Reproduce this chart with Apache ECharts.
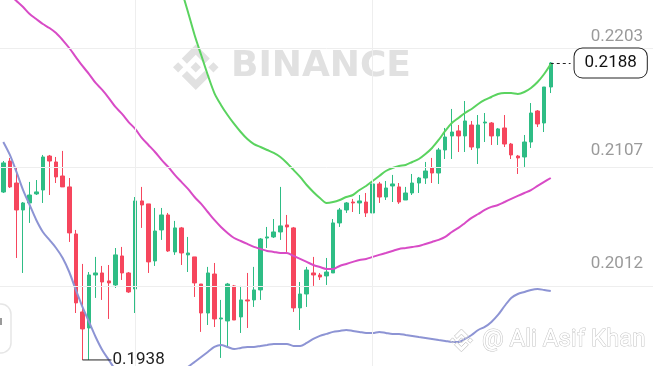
<!DOCTYPE html>
<html><head><meta charset="utf-8">
<style>html,body{margin:0;padding:0;background:#fff;overflow:hidden}#c{width:653px;height:366px}</style>
<script src="https://cdn.jsdelivr.net/npm/echarts@6/dist/echarts.min.js"></script>
</head><body><div id="c"></div>
<script>
// ---- data ----
const opens = [0.20793,0.21054,0.20869,0.20642,0.20701,0.20777,0.20810,0.21096,0.21046,0.20928,
0.20836,0.20440,0.19784,0.19649,0.20095,0.20112,0.20045,0.20011,0.20255,0.20112,
0.19977,0.20718,0.20693,0.20213,0.20474,0.20600,0.20289,0.20491,0.20264,0.20247,
0.20019,0.19775,0.20103,0.19725,0.19708,0.20003,0.19742,0.19885,0.19885,0.19969,
0.20406,0.20415,0.20457,0.20516,0.20491,0.19818,0.19935,0.20112,0.20095,0.20087,
0.20112,0.20533,0.20642,0.20709,0.20701,0.20709,0.20617,0.20861,0.20751,0.20844,
0.20836,0.20726,0.20785,0.20869,0.20911,0.20995,0.20953,0.21147,0.21265,0.21307,
0.21265,0.21357,0.21164,0.21374,0.21374,0.21265,0.21332,0.21197,0.21096,0.21088,
0.21214,0.21475,0.21374,0.21677];
const closes = [0.21038,0.20836,0.20642,0.20701,0.20768,0.20794,0.21088,0.21054,0.20920,0.20836,
0.20449,0.19860,0.19641,0.20095,0.20112,0.20036,0.20028,0.20264,0.20112,0.19952,
0.20718,0.20684,0.20205,0.20465,0.20600,0.20297,0.20491,0.20280,0.20280,0.20028,
0.19775,0.20112,0.19725,0.19733,0.20019,0.19716,0.19885,0.19876,0.19969,0.20398,
0.20415,0.20457,0.20508,0.20499,0.19818,0.19935,0.20137,0.20095,0.20078,0.20120,
0.20533,0.20642,0.20701,0.20701,0.20718,0.20617,0.20861,0.20751,0.20827,0.20861,
0.20709,0.20785,0.20869,0.20911,0.20970,0.20953,0.21147,0.21256,0.21298,0.21265,
0.21391,0.21172,0.21357,0.21382,0.21265,0.21324,0.21197,0.21105,0.21080,0.21214,
0.21458,0.21366,0.21677,0.21879];
const lows = [0.20785,0.20827,0.20238,0.20112,0.20533,0.20768,0.20701,0.20768,0.20869,0.20836,
0.20373,0.19775,0.19380,0.19380,0.19902,0.19885,0.19725,0.19986,0.20053,0.19944,
0.19775,0.20491,0.20112,0.20171,0.20390,0.20289,0.20264,0.20179,0.20120,0.19910,
0.19616,0.19674,0.19657,0.19397,0.19489,0.19716,0.19607,0.19649,0.19826,0.19885,
0.20322,0.20406,0.20390,0.20289,0.19784,0.19632,0.19826,0.20003,0.20053,0.20011,
0.20112,0.20499,0.20617,0.20625,0.20608,0.20583,0.20617,0.20701,0.20726,0.20709,
0.20693,0.20726,0.20768,0.20785,0.20861,0.20869,0.20861,0.21071,0.21071,0.21130,
0.21130,0.21147,0.21029,0.21214,0.21189,0.21189,0.21172,0.21071,0.20945,0.21004,
0.21164,0.21340,0.21298,0.21626];
const highs = [0.21054,0.21080,0.21004,0.20709,0.20878,0.20894,0.21105,0.21105,0.21088,0.21139,
0.20911,0.20474,0.20188,0.20120,0.20247,0.20171,0.20179,0.20322,0.20331,0.20120,
0.20751,0.20836,0.20693,0.20659,0.20659,0.20617,0.20550,0.20499,0.20415,0.20247,
0.20019,0.20163,0.20196,0.19885,0.20028,0.20011,0.20003,0.20112,0.20163,0.20406,
0.20499,0.20566,0.20836,0.20600,0.20499,0.20036,0.20163,0.20247,0.20112,0.20238,
0.20566,0.20659,0.20709,0.20735,0.20768,0.20785,0.20953,0.20878,0.20886,0.20937,
0.20869,0.20836,0.20945,0.20920,0.21046,0.21080,0.21164,0.21332,0.21492,0.21357,
0.21559,0.21391,0.21441,0.21458,0.21382,0.21332,0.21441,0.21206,0.21105,0.21273,
0.21542,0.21483,0.21677,0.21887];
const greenLine = [null,null,null,null,null,null,null,null,null,null,
null,null,null,null,null,null,null,null,null,null,
null,null,null,null,null,null,0.22661,0.22493,0.22308,0.22115,
0.21946,0.21778,0.21626,0.21526,0.21441,0.21366,0.21298,0.21239,0.21197,0.21172,
0.21147,0.21122,0.21088,0.21038,0.20979,0.20920,0.20852,0.20794,0.20743,0.20701,
0.20709,0.20726,0.20751,0.20768,0.20810,0.20844,0.20886,0.20928,0.20970,0.20995,
0.21012,0.21021,0.21046,0.21071,0.21113,0.21164,0.21231,0.21307,0.21374,0.21416,
0.21458,0.21492,0.21534,0.21568,0.21593,0.21618,0.21626,0.21626,0.21618,0.21635,
0.21669,0.21719,0.21786,0.21870];
const magentaLine = [0.22510,0.22451,0.22401,0.22350,0.22291,0.22249,0.22207,0.22173,0.22131,0.22072,
0.22005,0.21929,0.21854,0.21786,0.21711,0.21652,0.21584,0.21509,0.21450,0.21382,
0.21324,0.21248,0.21189,0.21130,0.21063,0.21004,0.20937,0.20878,0.20819,0.20751,
0.20693,0.20625,0.20558,0.20499,0.20449,0.20406,0.20381,0.20356,0.20331,0.20314,
0.20297,0.20289,0.20280,0.20280,0.20255,0.20230,0.20205,0.20179,0.20162,0.20146,
0.20146,0.20171,0.20188,0.20205,0.20221,0.20230,0.20247,0.20264,0.20280,0.20297,
0.20314,0.20322,0.20331,0.20339,0.20356,0.20373,0.20390,0.20415,0.20457,0.20491,
0.20533,0.20575,0.20608,0.20642,0.20668,0.20684,0.20709,0.20735,0.20760,0.20785,
0.20810,0.20844,0.20878,0.20911];
const lavenderLine = [0.21214,0.21105,0.20962,0.20810,0.20684,0.20558,0.20457,0.20390,0.20322,0.20238,
0.20120,0.19969,0.19826,0.19700,0.19573,0.19464,0.19380,0.19296,0.19228,0.19170,
0.19128,0.19102,0.19085,0.19085,0.19102,0.19144,0.19203,0.19270,0.19321,0.19363,
0.19405,0.19447,0.19489,0.19506,0.19489,0.19472,0.19481,0.19489,0.19489,0.19498,
0.19506,0.19515,0.19515,0.19515,0.19498,0.19498,0.19523,0.19557,0.19582,0.19599,
0.19616,0.19624,0.19632,0.19624,0.19616,0.19607,0.19607,0.19616,0.19607,0.19599,
0.19599,0.19590,0.19582,0.19573,0.19565,0.19557,0.19548,0.19540,0.19531,0.19531,
0.19557,0.19590,0.19632,0.19658,0.19700,0.19759,0.19834,0.19902,0.19935,0.19952,
0.19969,0.19977,0.19969,0.19960];
const tickValues = [0.2203, 0.2107, 0.2012];
const tickLabels = ['0.2203', '0.2107', '0.2012'];
const vGridIndex = [20, 56];
const emptySlots = 15;

// ---- chart ----
const N = opens.length;
const categories = Array.from({length: N + emptySlots}, (_, i) => String(i + 1));
const candleData = opens.map((o, i) => [o, closes[i], lows[i], highs[i]]);
const minLow = Math.min.apply(null, lows);
const lowIdx = lows.indexOf(minLow);
const last = closes[N - 1];
const GREEN = '#2ebd85', RED = '#f6465d';
const FONT = 'Roboto, "Noto Sans", sans-serif';

// Binance logo polygons (126-unit box)
const logoPolys = [
  [[38.73,53.2],[63.3,28.63],[87.9,53.22],[102.2,38.92],[63.3,0],[24.42,38.9]],
  [[0,63.31],[14.3,49],[28.6,63.3],[14.3,77.6]],
  [[63.3,48.9],[77.7,63.3],[63.3,77.7],[48.9,63.3]],
  [[38.73,73.41],[63.3,97.98],[87.9,73.4],[102.2,87.7],[63.3,126.61],[24.42,87.71]],
  [[98,63.31],[112.3,49],[126.6,63.3],[112.3,77.6]]
];
function logo(ox, oy, s, style, z) {
  return logoPolys.map(p => ({
    type: 'polygon', silent: true, z: z,
    shape: {points: p.map(q => [ox + q[0] * s, oy + q[1] * s])},
    style: style
  }));
}

const baseGraphic = [].concat(
  logo(173, 44.5, 0.36, {fill: '#e1e1e1'}, 0),
  [{type: 'text', silent: true, z: 0, x: 231, y: 67,
    style: {text: 'BINANCE', fill: '#e1e1e1', font: 'bold 36px "DejaVu Sans"', textVerticalAlign: 'middle'}}],
  logo(450, 329, 0.18, {fill: 'none', stroke: '#cfcfcf', lineWidth: 1}, 50),
  [{type: 'text', silent: true, z: 50, x: 482, y: 340,
    style: {text: '@ Ali Asif Khan', fill: '#ffffff', stroke: '#c4c4c4', lineWidth: 1, font: '24px Roboto',
      textVerticalAlign: 'middle', shadowColor: 'rgba(0,0,0,0.10)', shadowBlur: 2}},
   {type: 'rect', silent: true, z: 50, shape: {x: -40, y: 304, width: 51, height: 49, r: 10},
    style: {fill: 'none', stroke: '#e6e6e6', lineWidth: 1.5}},
   {type: 'rect', silent: true, z: 50, shape: {x: -1, y: 318, width: 3, height: 7},
    style: {fill: '#9a9a9a'}}]
);

const chart = echarts.init(document.getElementById('c'), null, {renderer: 'canvas'});
chart.setOption({
  animation: false,
  backgroundColor: '#fff',
  grid: {left: -2.6, right: -1.6, top: 0, bottom: 0},
  xAxis: {type: 'category', data: categories, show: false, boundaryGap: true},
  yAxis: {type: 'value', min: 0.19329, max: 0.22409, show: false, splitLine: {show: false}},
  graphic: baseGraphic,
  series: [
    {
      name: 'grid', type: 'line', data: categories.map(() => null), z: 0, silent: true, symbol: 'none',
      markLine: {
        silent: true, symbol: 'none', animation: false,
        lineStyle: {color: '#eeeeee', width: 1, type: 'solid'},
        label: {show: false},
        data: tickValues.map(v => ({yAxis: v})).concat(vGridIndex.map(i => ({xAxis: i})))
      }
    },
    {
      name: 'k', type: 'candlestick', data: candleData, barWidth: 4, z: 2,
      itemStyle: {color: GREEN, color0: RED, borderColor: GREEN, borderColor0: RED, borderWidth: 1},
      markPoint: {
        silent: true, animation: false,
        data: [{coord: [lowIdx, minLow], symbol: 'rect', symbolSize: [29, 1], symbolOffset: [14.5, 0],
          itemStyle: {color: '#222'},
          label: {show: true, position: 'right', formatter: minLow.toFixed(4), color: '#222', fontSize: 17,
            fontFamily: FONT, distance: 1}}]
      },
      markLine: {
        silent: true, symbol: 'none', animation: false,
        lineStyle: {color: '#222', type: [3, 3], width: 1},
        data: [[{coord: [N - 1, last]}, {coord: [N + 2, last]}]],
        label: {show: true, position: 'end', formatter: last.toFixed(4), color: '#111', fontSize: 17,
          fontFamily: FONT, backgroundColor: '#fff', borderColor: '#222', borderWidth: 1, borderRadius: 8,
          padding: [6, 10], distance: 4}
      }
    },
    {name: 'green', type: 'line', data: greenLine, symbol: 'none', smooth: 0.3, z: 3,
      lineStyle: {color: '#5ad35f', width: 2}},
    {name: 'magenta', type: 'line', data: magentaLine, symbol: 'none', smooth: 0.3, z: 3,
      lineStyle: {color: '#d84bc6', width: 2}},
    {name: 'lavender', type: 'line', data: lavenderLine, symbol: 'none', smooth: 0.3, z: 3,
      lineStyle: {color: '#8d94d4', width: 2}}
  ]
});

// price-axis labels placed through the library's own y scale
const tickGraphic = tickValues.map((v, k) => {
  const py = chart.convertToPixel({yAxisIndex: 0}, v);
  return {type: 'text', silent: true, z: 5, x: 643, y: py - 8.5,
    style: {text: tickLabels[k], fill: '#9a9a9a', font: '17px Roboto', textAlign: 'right', textVerticalAlign: 'middle'}};
});
chart.setOption({graphic: baseGraphic.concat(tickGraphic)});
</script>
</body></html>
